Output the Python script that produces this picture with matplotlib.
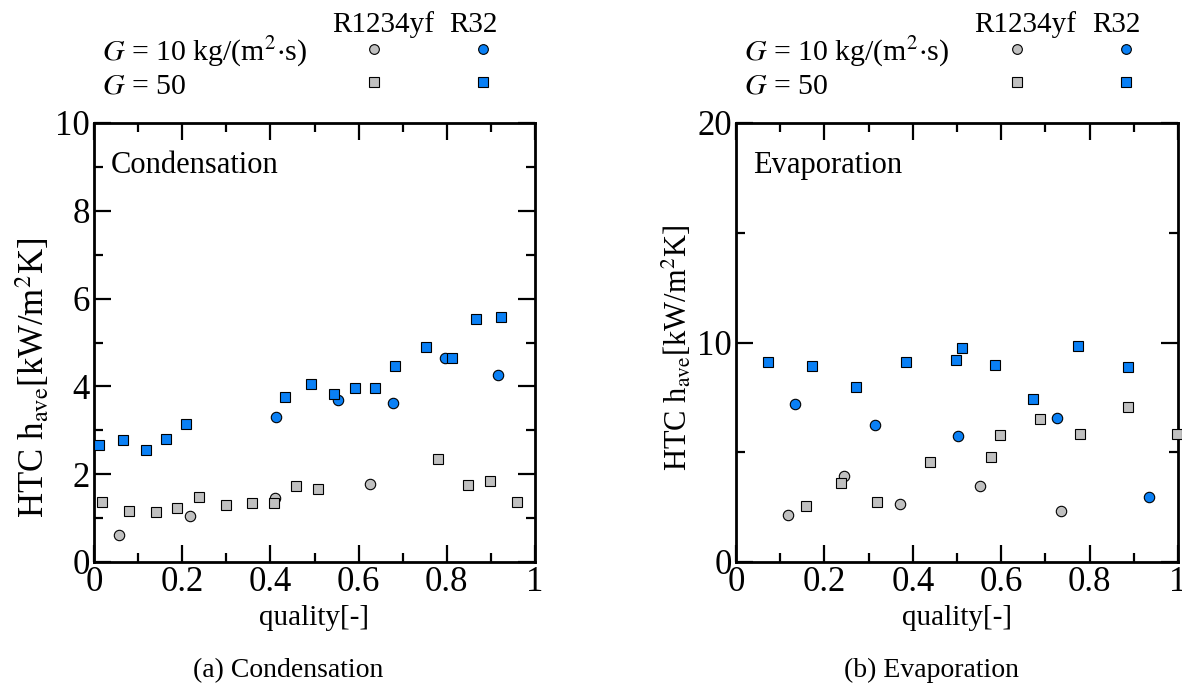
import numpy as np
import matplotlib
matplotlib.use("Agg")
import matplotlib.pyplot as plt
from matplotlib.ticker import MultipleLocator

plt.rcParams['font.family'] = ['Liberation Serif', 'DejaVu Serif']
plt.rcParams['mathtext.fontset'] = 'stix'

# condensation data: quality, HTC [kW/m2K]
cond_r32_g50_x = [0.012, 0.066, 0.118, 0.163, 0.208, 0.434, 0.492, 0.545, 0.591, 0.638, 0.683, 0.752, 0.812, 0.866, 0.923]
cond_r32_g50_y = [2.67, 2.77, 2.55, 2.81, 3.15, 3.75, 4.05, 3.82, 3.96, 3.97, 4.47, 4.90, 4.65, 5.53, 5.58]
cond_r32_g10_x = [0.413, 0.553, 0.678, 0.795, 0.915]
cond_r32_g10_y = [3.30, 3.69, 3.62, 4.65, 4.25]
cond_yf_g10_x = [0.057, 0.218, 0.411, 0.625]
cond_yf_g10_y = [0.61, 1.05, 1.45, 1.78]
cond_yf_g50_x = [0.019, 0.079, 0.140, 0.189, 0.239, 0.300, 0.359, 0.409, 0.459, 0.509, 0.779, 0.848, 0.899, 0.959]
cond_yf_g50_y = [1.36, 1.17, 1.14, 1.22, 1.49, 1.30, 1.34, 1.34, 1.74, 1.66, 2.34, 1.75, 1.85, 1.37]

# evaporation data
evap_r32_g50_x = [0.072, 0.172, 0.272, 0.385, 0.498, 0.511, 0.586, 0.673, 0.774, 0.886]
evap_r32_g50_y = [9.11, 8.93, 7.99, 9.13, 9.22, 9.75, 8.99, 7.43, 9.83, 8.89]
evap_r32_g10_x = [0.134, 0.314, 0.503, 0.726, 0.935]
evap_r32_g10_y = [7.22, 6.22, 5.73, 6.57, 2.97]
evap_yf_g10_x = [0.118, 0.245, 0.370, 0.552, 0.735]
evap_yf_g10_y = [2.14, 3.94, 2.65, 3.44, 2.32]
evap_yf_g50_x = [0.158, 0.238, 0.318, 0.438, 0.578, 0.598, 0.688, 0.778, 0.888, 0.998]
evap_yf_g50_y = [2.53, 3.62, 2.73, 4.55, 4.78, 5.79, 6.50, 5.85, 7.04, 5.81]

blue = '#0a80f5'
gray = '#c0c0c0'
ms = 7.5

fig = plt.figure(figsize=(11.82, 6.83), dpi=100)
W, H = 1182, 683
ax1 = fig.add_axes([94/W, 1-562/H, 441/W, 439/H])
ax2 = fig.add_axes([736/W, 1-562/H, 442/W, 439/H])


def draw(ax, data, ymax, ymaj, ymin, title):
    for x, y, mk, c in data:
        ax.plot(x, y, ls='none', marker=mk, ms=ms if mk == 'o' else ms + 0.3,
                mfc=c, mec='black', mew=0.8, clip_on=False, zorder=3)
    ax.set_xlim(0, 1)
    ax.set_ylim(0, ymax)
    ax.xaxis.set_major_locator(MultipleLocator(0.2))
    ax.xaxis.set_minor_locator(MultipleLocator(0.1))
    ax.yaxis.set_major_locator(MultipleLocator(ymaj))
    ax.yaxis.set_minor_locator(MultipleLocator(ymin))
    ax.set_xticks([0, 0.2, 0.4, 0.6, 0.8, 1])
    ax.set_xticklabels(['0', '0.2', '0.4', '0.6', '0.8', '1'])
    ax.tick_params(which='both', direction='in', top=True, right=True, labelsize=25, width=1.6, pad=3)
    ax.tick_params(which='major', length=12)
    ax.tick_params(which='minor', length=6.5)
    for s in ax.spines.values():
        s.set_linewidth(2)
    ax.set_xlabel('quality[-]', fontsize=21, labelpad=4)
    ax.text(0.039, 0.886, title, transform=ax.transAxes, fontsize=22)

    # legend block above axes
    ax.text(0.655, 1.207, 'R1234yf', transform=ax.transAxes, fontsize=21, ha='center')
    ax.text(0.86, 1.207, 'R32', transform=ax.transAxes, fontsize=21, ha='center')
    ax.text(0.018, 1.143, r'$G$ = 10 kg/(m$^{2}$$\cdot$s)', transform=ax.transAxes, fontsize=21.5)
    ax.text(0.018, 1.068, r'$G$ = 50', transform=ax.transAxes, fontsize=21.5)
    for lx, ly, mk, c in [(0.635, 1.169, 'o', gray), (0.882, 1.169, 'o', blue),
                          (0.635, 1.093, 's', gray), (0.882, 1.093, 's', blue)]:
        ax.plot([lx], [ly], transform=ax.transAxes, marker=mk, ms=7, mfc=c,
                mec='black', mew=0.8, clip_on=False, ls='none')


draw(ax1, [(cond_yf_g10_x, cond_yf_g10_y, 'o', gray),
           (cond_yf_g50_x, cond_yf_g50_y, 's', gray),
           (cond_r32_g10_x, cond_r32_g10_y, 'o', blue),
           (cond_r32_g50_x, cond_r32_g50_y, 's', blue)],
     10, 2, 1, 'Condensation')
draw(ax2, [(evap_yf_g10_x, evap_yf_g10_y, 'o', gray),
           (evap_yf_g50_x, evap_yf_g50_y, 's', gray),
           (evap_r32_g10_x, evap_r32_g10_y, 'o', blue),
           (evap_r32_g50_x, evap_r32_g50_y, 's', blue)],
     20, 10, 5, 'Evaporation')

ylab = r'HTC h$_{\mathrm{ave}}$[kW/m$^{2}$K]'
fig.text(33/W, 1-378/H, ylab, rotation=90, fontsize=25, ha='center', va='center')
fig.text(677/W, 1-348/H, ylab, rotation=90, fontsize=22, ha='center', va='center')

fig.text(288/W, 1-677/H, '(a) Condensation', fontsize=20, ha='center', va='baseline')
fig.text(932/W, 1-677/H, '(b) Evaporation', fontsize=20, ha='center', va='baseline')

fig.savefig('out.png', dpi=100)
